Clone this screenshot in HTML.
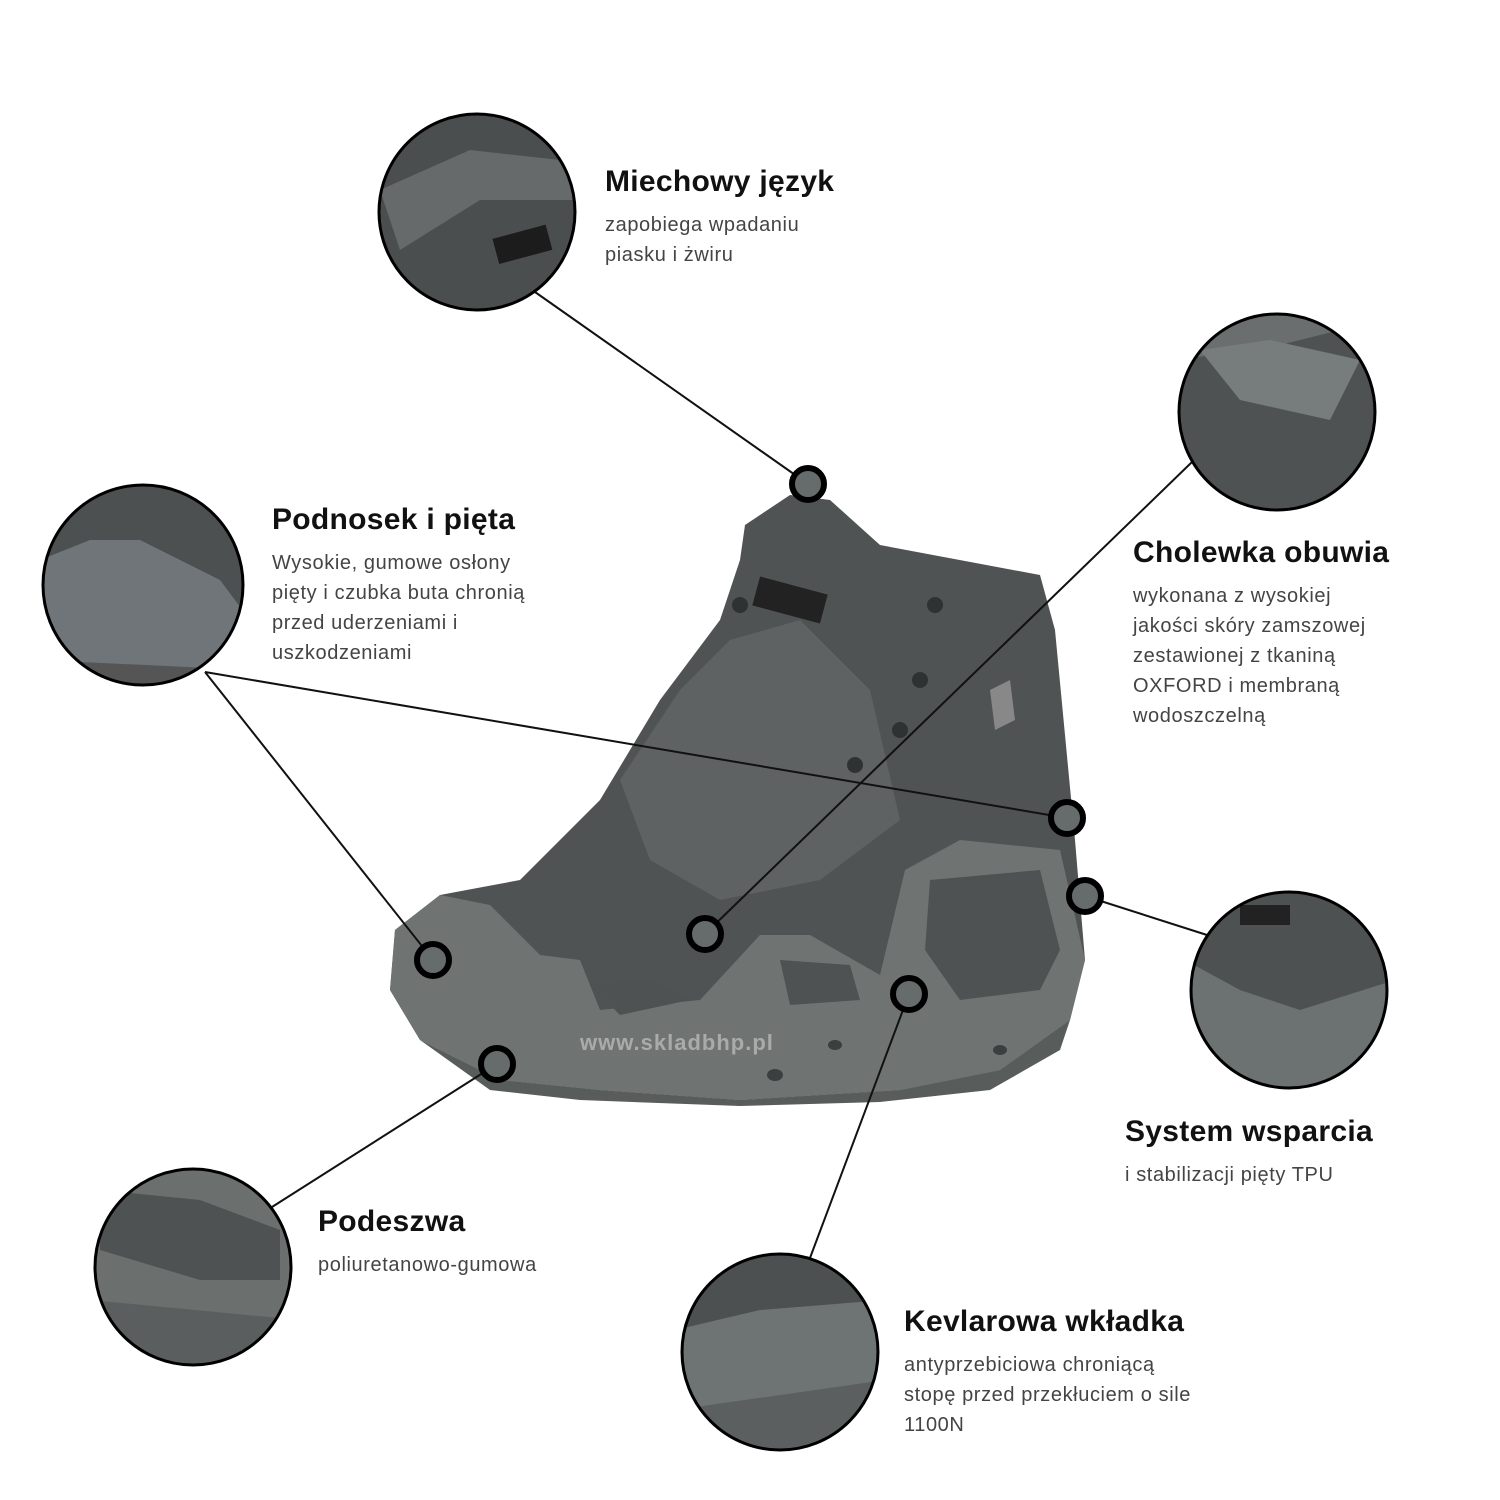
<!DOCTYPE html>
<html><head><meta charset="utf-8">
<style>
body{margin:0;width:1500px;height:1500px;background:#fff;position:relative;overflow:hidden;font-family:"Liberation Sans",sans-serif}
.t{position:absolute;font-weight:bold;font-size:30px;color:#111;letter-spacing:0.3px}
.d{position:absolute;font-size:20px;line-height:30px;color:#444;letter-spacing:0.6px}
svg{position:absolute;left:0;top:0}
</style></head><body>
<svg width="1500" height="1500" viewBox="0 0 1500 1500">
<defs>
<clipPath id="c1"><circle cx="477" cy="212" r="97"/></clipPath>
<clipPath id="c2"><circle cx="1277" cy="412" r="97"/></clipPath>
<clipPath id="c3"><circle cx="143" cy="585" r="99"/></clipPath>
<clipPath id="c4"><circle cx="1289" cy="990" r="97"/></clipPath>
<clipPath id="c5"><circle cx="193" cy="1267" r="97"/></clipPath>
<clipPath id="c6"><circle cx="780" cy="1352" r="97"/></clipPath>
</defs>
<!-- boot -->
<path d="M745,525 L790,495 L830,500 L880,545 L1040,575 L1055,630 L1075,840 L1085,960 L1070,1020 L1000,1070 L900,1090 L740,1100 L600,1090 L500,1080 L420,1040 L390,990 L395,930 L440,895 L520,880 L600,800 L660,700 L720,620 L740,560 Z" fill="#505353"/>
<path d="M620,780 L680,690 L730,640 L800,620 L870,690 L900,820 L820,880 L720,900 L650,860 Z" fill="#5e6262"/>
<!-- sole band -->
<path d="M390,990 L395,930 L440,895 L490,905 L540,955 L580,960 L600,1010 L700,1000 L760,935 L810,935 L880,975 L905,870 L960,840 L1060,850 L1085,960 L1070,1020 L1000,1070 L900,1090 L740,1100 L600,1090 L500,1080 L420,1040 Z" fill="#6f7473"/>
<path d="M930,880 L1040,870 L1060,950 L1040,990 L960,1000 L925,950 Z" fill="#4f5252"/>
<path d="M590,985 L650,980 L690,1000 L620,1015 Z" fill="#4f5252"/>
<path d="M780,960 L850,965 L860,1000 L790,1005 Z" fill="#4f5252"/>
<path d="M420,1040 L500,1080 L600,1090 L740,1100 L900,1090 L1000,1070 L1070,1020 L1060,1050 L990,1090 L880,1102 L740,1106 L580,1100 L490,1090 Z" fill="#585c5b"/>
<g fill="#3c3f3f"><ellipse cx="775" cy="1075" rx="8" ry="6"/><ellipse cx="835" cy="1045" rx="7" ry="5"/><ellipse cx="1000" cy="1050" rx="7" ry="5"/></g>
<rect x="755" y="585" width="70" height="30" fill="#222" transform="rotate(15 790 600)"/>
<g fill="#2f3232"><circle cx="740" cy="605" r="8"/><circle cx="935" cy="605" r="8"/><circle cx="920" cy="680" r="8"/><circle cx="900" cy="730" r="8"/><circle cx="855" cy="765" r="8"/></g>
<path d="M990,690 L1010,680 L1015,720 L995,730 Z" fill="#888"/>
<text x="580" y="1050" font-family="Liberation Sans" font-weight="bold" font-size="22" fill="#aaa" letter-spacing="1">www.skladbhp.pl</text>
<!-- lines -->
<g stroke="#111" stroke-width="2" fill="none">
<line x1="808" y1="484" x2="535" y2="292"/>
<line x1="1192" y1="462" x2="705" y2="934"/>
<line x1="205" y1="672" x2="1067" y2="818"/>
<line x1="205" y1="672" x2="433" y2="960"/>
<line x1="1085" y1="896" x2="1207" y2="935"/>
<line x1="497" y1="1064" x2="272" y2="1207"/>
<line x1="909" y1="994" x2="810" y2="1258"/>
</g>
<!-- zoom circles -->
<g clip-path="url(#c1)"><rect x="370" y="100" width="220" height="220" fill="#4b4e4e"/><path d="M380,190 L470,150 L560,160 L580,200 L480,200 L400,250 Z" fill="#666a6a"/><rect x="495" y="232" width="55" height="26" fill="#1c1c1c" transform="rotate(-15 520 245)"/></g>
<g clip-path="url(#c2)"><rect x="1170" y="305" width="220" height="220" fill="#6a6e6e"/><path d="M1170,360 L1260,350 L1340,330 L1390,360 L1390,520 L1170,520 Z" fill="#4f5252"/><path d="M1200,350 L1270,340 L1360,360 L1330,420 L1240,400 Z" fill="#777c7c"/></g>
<g clip-path="url(#c3)"><rect x="40" y="480" width="210" height="210" fill="#4d5050"/><path d="M40,560 L90,540 L140,540 L220,580 L250,620 L250,690 L40,690 Z" fill="#70757a"/><path d="M40,660 L250,670 L250,690 L40,690 Z" fill="#555"/></g>
<g clip-path="url(#c4)"><rect x="1185" y="885" width="210" height="210" fill="#4e5151"/><path d="M1185,960 L1240,990 L1300,1010 L1395,980 L1395,1095 L1185,1095 Z" fill="#6c7171"/><rect x="1240" y="905" width="50" height="20" fill="#222"/></g>
<g clip-path="url(#c5)"><rect x="90" y="1165" width="210" height="210" fill="#6b706f"/><path d="M100,1190 L200,1200 L280,1230 L280,1280 L200,1280 L100,1250 Z" fill="#4f5252"/><path d="M90,1300 L300,1320 L300,1375 L90,1375 Z" fill="#5a5e5e"/></g>
<g clip-path="url(#c6)"><rect x="675" y="1250" width="210" height="210" fill="#6e7373"/><path d="M675,1250 L885,1250 L885,1300 L760,1310 L675,1330 Z" fill="#4d5050"/><path d="M675,1410 L885,1380 L885,1460 L675,1460 Z" fill="#5b5f5f"/></g>
<g fill="none" stroke="#000" stroke-width="3">
<circle cx="477" cy="212" r="98"/><circle cx="1277" cy="412" r="98"/><circle cx="143" cy="585" r="100"/>
<circle cx="1289" cy="990" r="98"/><circle cx="193" cy="1267" r="98"/><circle cx="780" cy="1352" r="98"/>
</g>
<!-- markers -->
<g fill="#666b6b" stroke="#000" stroke-width="6">
<circle cx="808" cy="484" r="16"/><circle cx="1067" cy="818" r="16"/><circle cx="1085" cy="896" r="16"/>
<circle cx="433" cy="960" r="16"/><circle cx="705" cy="934" r="16"/><circle cx="909" cy="994" r="16"/><circle cx="497" cy="1064" r="16"/>
</g>
</svg>
<div class="t" style="left:605px;top:165px">Miechowy język</div>
<div class="d" style="left:605px;top:210px">zapobiega wpadaniu<br>piasku i żwiru</div>
<div class="t" style="left:272px;top:503px">Podnosek i pięta</div>
<div class="d" style="left:272px;top:548px">Wysokie, gumowe osłony<br>pięty i czubka buta chronią<br>przed uderzeniami i<br>uszkodzeniami</div>
<div class="t" style="left:1133px;top:536px">Cholewka obuwia</div>
<div class="d" style="left:1133px;top:581px">wykonana z wysokiej<br>jakości skóry zamszowej<br>zestawionej z tkaniną<br>OXFORD i membraną<br>wodoszczelną</div>
<div class="t" style="left:1125px;top:1115px">System wsparcia</div>
<div class="d" style="left:1125px;top:1160px">i stabilizacji pięty TPU</div>
<div class="t" style="left:318px;top:1205px">Podeszwa</div>
<div class="d" style="left:318px;top:1250px">poliuretanowo-gumowa</div>
<div class="t" style="left:904px;top:1305px">Kevlarowa wkładka</div>
<div class="d" style="left:904px;top:1350px">antyprzebiciowa chroniącą<br>stopę przed przekłuciem o sile<br>1100N</div>
</body></html>
